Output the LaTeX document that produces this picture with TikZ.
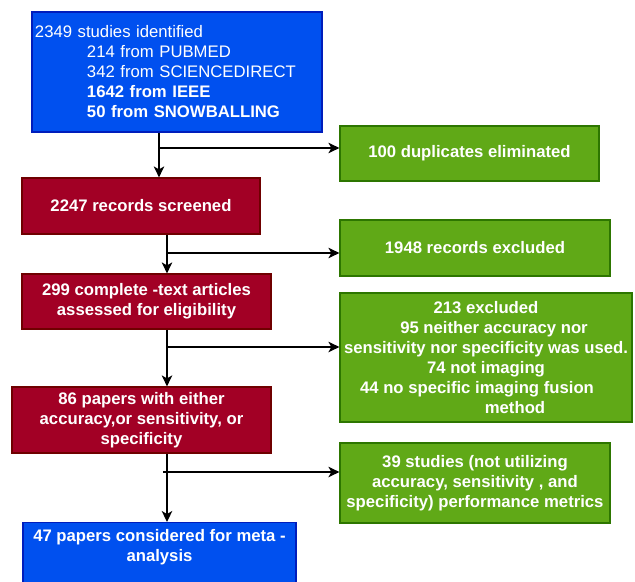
\documentclass[tikz,border=0pt]{standalone}
\usepackage{fontspec}
\setmainfont{Liberation Sans}
\usetikzlibrary{arrows.meta}
\definecolor{bfill}{HTML}{0050EF}
\definecolor{bdraw}{HTML}{001DBC}
\definecolor{rfill}{HTML}{A20025}
\definecolor{rdraw}{HTML}{6F0000}
\definecolor{gfill}{HTML}{60A917}
\definecolor{gdraw}{HTML}{2D7600}
\tikzset{
  boxbase/.style={rectangle, line width=1.2bp, inner sep=0pt, text=white, align=center,
    font=\fontsize{16.7bp}{20bp}\selectfont\bfseries},
  bluebox/.style={boxbase, fill=bfill, draw=bdraw},
  redbox/.style={boxbase, fill=rfill, draw=rdraw},
  greenbox/.style={boxbase, fill=gfill, draw=gdraw},
  arr/.style={line width=1.4bp, draw=black, -{Stealth[length=11bp,width=10.5bp,inset=3bp]}}
}
\begin{document}
\begin{tikzpicture}[x=1bp,y=-1bp]
\useasboundingbox (0,0) rectangle (635,582);
% boxes
\node[bluebox, minimum width=290bp, minimum height=120bp, text width=284bp, align=left, inner xsep=3bp] (top) at (177,72)
 {\mdseries 2349 studies identified\\
  \mdseries\hspace*{52bp}214 from PUBMED\\
  \mdseries\hspace*{52bp}342 from SCIENCEDIRECT\\
  \bfseries\hspace*{52bp}1642 from IEEE\\
  \bfseries\hspace*{52bp}50 from SNOWBALLING};
\node[greenbox, minimum width=259bp, minimum height=55bp] (g1) at (469.5,153.5) {100 duplicates eliminated};
\node[redbox, minimum width=238bp, minimum height=56bp] (r1) at (141,206) {2247 records screened};
\node[greenbox, minimum width=270bp, minimum height=56bp] (g2) at (475,248) {1948 records excluded};
\node[redbox, minimum width=249bp, minimum height=55bp] (r2) at (146.5,301.5) {299 complete -text articles\\assessed for eligibility};
\node[greenbox, minimum width=292bp, minimum height=129bp] (g3) at (486,357.5)
 {213 excluded\\
  \hspace*{16bp}95 neither accuracy nor\\
  sensitivity nor specificity was used.\\
  74 not imaging\\
  44 no specific imaging fusion\hbox to 18bp{}\\
  \hspace*{58bp}method};
\node[redbox, minimum width=259bp, minimum height=66bp] (r3) at (141.5,420) {86 papers with either\\accuracy,or sensitivity, or\\specificity};
\node[greenbox, minimum width=270bp, minimum height=80bp] (g4) at (475,483) {39 studies (not utilizing\\accuracy, sensitivity , and\\specificity) performance metrics};
\node[bluebox, minimum width=273bp, minimum height=80bp, anchor=north] (b2) at (159.5,522) {};
\node[boxbase, anchor=north] (b2t) at (159.5,529) {47 papers considered for meta -\\analysis};
% junctions
\coordinate (j1) at (159,148);
\coordinate (j2) at (167,253);
\coordinate (j3) at (167,347);
\coordinate (j4) at (167,472);
\coordinate (j4s) at (163,472);
% connectors
\draw[arr] (top.south -| j1) -- (r1.north -| j1);
\draw[arr] (j1) -- (j1 -| g1.west);
\draw[arr] (r1.south -| j2) -- (r2.north -| j2);
\draw[arr] (j2) -- (j2 -| g2.west);
\draw[arr] (r2.south -| j3) -- (r3.north -| j3);
\draw[arr] (j3) -- (j3 -| g3.west);
\draw[arr] (r3.south -| j4) -- (b2.north -| j4);
\draw[arr] (j4s) -- (j4 -| g4.west);
\end{tikzpicture}
\end{document}
